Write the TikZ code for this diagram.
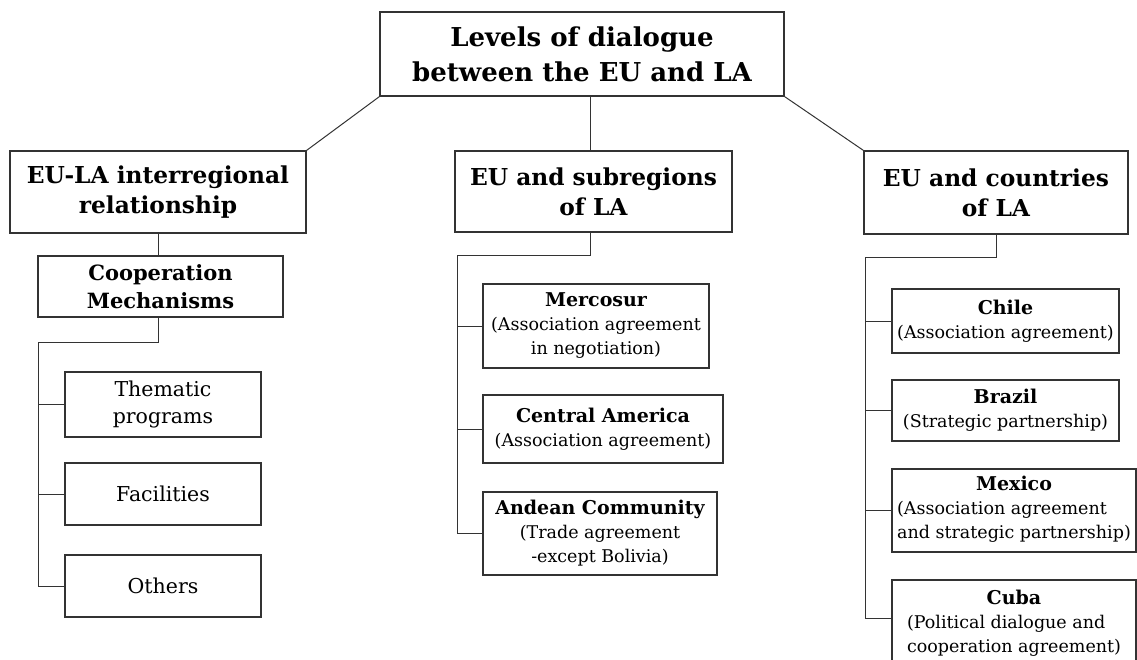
\documentclass[tikz,border=0pt]{standalone}
\usepackage{fontspec}
\setmainfont{DejaVu Serif}
\usetikzlibrary{positioning}
\definecolor{boxLine}{HTML}{333333}
\definecolor{linkLine}{HTML}{333333}
\newcommand{\partnername}[1]{{\fontsize{19}{24}\selectfont\bfseries #1}}
\newcommand{\leftlines}[1]{\begin{tabular}[t]{@{}l@{}}#1\end{tabular}}

\begin{document}
\begin{tikzpicture}[
    x=1pt, y=-1pt,
    every node/.style={align=center, inner sep=0pt, text=black},
    box/.style={draw=boxLine, line width=1.2pt},
    boxsize/.style 2 args={minimum width=#1, minimum height=#2},
    titlebox/.style={box, font=\fontsize{26}{35}\selectfont\bfseries},
    levelbox/.style={box, font=\fontsize{23.3}{30}\selectfont\bfseries},
    mechbox/.style={box, font=\fontsize{21}{28}\selectfont\bfseries},
    itembox/.style={box, font=\fontsize{20.5}{27}\selectfont},
    partnerbox/.style={box, font=\fontsize{17.5}{24}\selectfont},
    link/.style={draw=linkLine, line width=1pt}
]
    \path[use as bounding box, clip] (0,0) rectangle (1137,660);

    % top level
    \node[titlebox, boxsize={404}{84}] (levels) at (582,54) {Levels of dialogue\\between the EU and LA};

    % second level
    \node[levelbox, boxsize={296}{82}] (interreg) at (158,192) {EU-LA interregional\\relationship};
    \node[levelbox, boxsize={277}{81}] (subreg) at (593.5,191.5) {EU and subregions\\of LA};
    \node[levelbox, boxsize={264}{83}] (countries) at (996,192.5) {EU and countries\\of LA};

    % interregional branch
    \node[mechbox, boxsize={245}{61}] (coop) at (160.5,286.5) {Cooperation\\Mechanisms};
    \node[itembox, boxsize={196}{65}] (thematic) at (163,404.5) {Thematic\\programs};
    \node[itembox, boxsize={196}{62}] (facilities) at (163,494) {Facilities};
    \node[itembox, boxsize={196}{62}] (others) at (163,586) {Others};

    % subregional branch
    \node[partnerbox, boxsize={226}{84}] (mercosur) at (596,326) {\partnername{Mercosur}\\(Association agreement\\in negotiation)};
    \node[partnerbox, boxsize={240}{68}] (central) at (603,429) {\partnername{Central America}\\(Association agreement)};
    \node[partnerbox, boxsize={234}{83}] (andean) at (600,533.5) {\partnername{Andean Community}\\(Trade agreement\\-except Bolivia)};

    % country branch
    \node[partnerbox, boxsize={227}{64}] (chile) at (1005.5,321) {\partnername{Chile}\\(Association agreement)};
    \node[partnerbox, boxsize={227}{61}] (brazil) at (1005.5,410.5) {\partnername{Brazil}\\(Strategic partnership)};
    \node[partnerbox, boxsize={244}{83}] (mexico) at (1014,510.5) {\partnername{Mexico}\\\leftlines{(Association agreement\\and strategic partnership)}};
    \node[partnerbox, boxsize={244}{90}] (cuba) at (1014,625) {\partnername{Cuba}\\\leftlines{(Political dialogue and\\cooperation agreement)}};

    % spines
    \coordinate (midstem) at (590,0);
    \coordinate (leftspine) at (38,342);
    \coordinate (midspine) at (457,256);
    \coordinate (rightspine) at (865,258);
    \coordinate (cubalink) at ([yshift=7pt]cuba.west);

    % links from the top
    \draw[link] (levels.south west) -- (interreg.north east);
    \draw[link] (levels.south east) -- (countries.north west);
    \draw[link] (midstem |- levels.south) -- (midstem |- subreg.north);

    % links of the interregional branch
    \draw[link] (interreg.south) -- (interreg.south |- coop.north);
    \draw[link] (interreg.south |- coop.south) |- (leftspine) -- (leftspine |- others.west) -- (others.west);
    \draw[link] (leftspine |- thematic.west) -- (thematic.west);
    \draw[link] (leftspine |- facilities.west) -- (facilities.west);

    % links of the subregional branch
    \draw[link] (midstem |- subreg.south) |- (midspine) -- (midspine |- andean.west) -- (andean.west);
    \draw[link] (midspine |- mercosur.west) -- (mercosur.west);
    \draw[link] (midspine |- central.west) -- (central.west);

    % links of the country branch
    \draw[link] (countries.south) |- (rightspine) -- (rightspine |- cubalink) -- (cubalink);
    \draw[link] (rightspine |- chile.west) -- (chile.west);
    \draw[link] (rightspine |- brazil.west) -- (brazil.west);
    \draw[link] (rightspine |- mexico.west) -- (mexico.west);
\end{tikzpicture}
\end{document}
